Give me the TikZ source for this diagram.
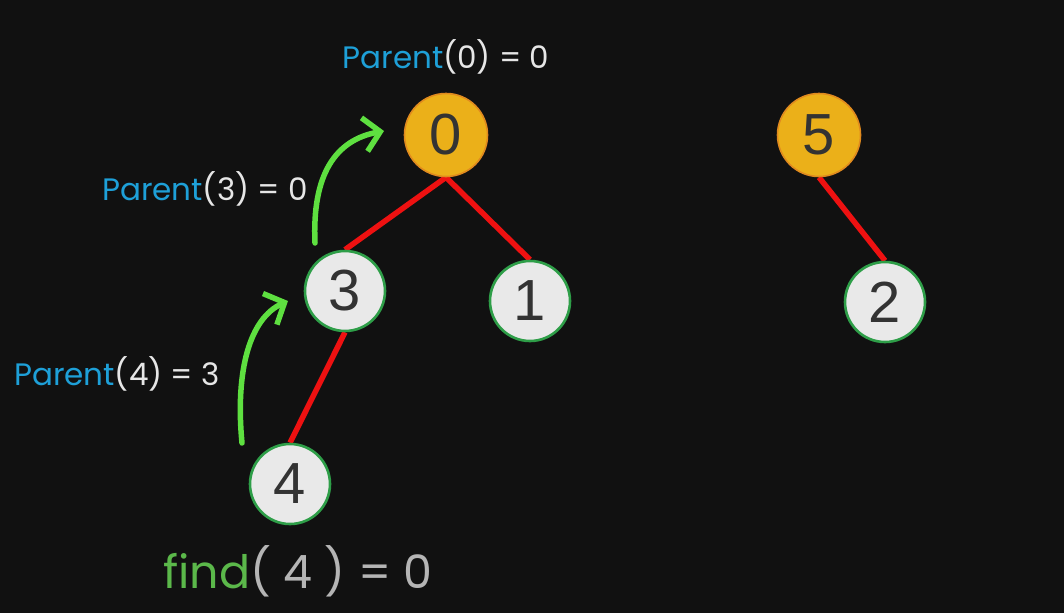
\documentclass[tikz,border=0pt]{standalone}
\usepackage{fontspec}
\setmainfont{Poppins}
\newfontfamily\digitfont{Liberation Sans}
\usetikzlibrary{arrows.meta}
\pgfdeclarelayer{bg}
\pgfdeclarelayer{edges}
\pgfsetlayers{bg,edges,main}
\definecolor{bgdark}{HTML}{111111}
\definecolor{rootfill}{HTML}{EBB019}
\definecolor{rootline}{HTML}{E08A1E}
\definecolor{leaffill}{HTML}{E9E9E9}
\definecolor{leafline}{HTML}{2E9E48}
\definecolor{edgered}{HTML}{EE1111}
\definecolor{arrowgreen}{HTML}{5EE040}
\definecolor{labelblue}{HTML}{1EA0D8}
\definecolor{textgray}{HTML}{E6E6E6}
\definecolor{findgreen}{HTML}{5BB84A}
\definecolor{findgray}{HTML}{B5B5B5}
\tikzset{
	rootnode/.style={circle,draw=rootline,fill=rootfill,line width=1.6pt,minimum size=83pt,inner sep=0pt,
		font=\digitfont\fontsize{58}{58}\selectfont,text=black!80},
	leafnode/.style={circle,draw=leafline,fill=leaffill,line width=2.6pt,minimum size=80pt,inner sep=0pt,
		font=\digitfont\fontsize{58}{58}\selectfont,text=black!80},
	treeedge/.style={draw=edgered,line width=5.5pt},
	findpath/.style={draw=arrowgreen,line width=5.5pt,line cap=round,-{Straight Barb[length=16pt,width=34pt,line width=5.5pt]}},
	parentlabel/.style={font=\fontsize{31}{31}\selectfont,text=textgray}
}
\begin{document}
\begin{tikzpicture}[x=1pt,y=-1pt,line join=round]
	\begin{pgfonlayer}{bg}
		\fill[bgdark] (0,0) rectangle (1064,613);
	\end{pgfonlayer}
	\path[use as bounding box] (0,0) rectangle (1064,613);
	% nodes of the two trees
	\node[rootnode] (n0) at (446,135) {0};
	\node[rootnode] (n5) at (819,135) {5};
	\node[leafnode] (n3) at (345,291) {3};
	\node[leafnode] (n1) at (530,301) {1};
	\node[leafnode] (n2) at (885,302) {2};
	\node[leafnode] (n4) at (290,484) {4};
	% edges
	\begin{pgfonlayer}{edges}
		\draw[treeedge] (n0.south) -- (n3.north);
		\draw[treeedge] (n0.south) -- (n1.north);
		\draw[treeedge] (n5.south) -- (n2.north);
		\draw[treeedge] (n3.south) -- (n4.north);
	\end{pgfonlayer}
	% green arrows
	\path (315,243) coordinate (s3) (384,131) coordinate (e3)
		(242,443) coordinate (s4) (288,301) coordinate (e4);
	\draw[findpath] (s3) .. controls (312,175) and (335,140) .. (e3);
	\draw[findpath] (s4) .. controls (235,370) and (250,318) .. (e4);
	% labels
	\node[parentlabel] (p0) at (446,57) {\textcolor{labelblue}{Parent}(0) = 0};
	\node[parentlabel] (p3) at (205,189) {\textcolor{labelblue}{Parent}(3) = 0};
	\node[parentlabel] (p4) at (117,374) {\textcolor{labelblue}{Parent}(4) = 3};
	\node[font=\fontsize{46}{46}\selectfont,text=findgray] (fd) at (298,571) {\textcolor{findgreen}{find}( 4 ) = 0};
\end{tikzpicture}
\end{document}
